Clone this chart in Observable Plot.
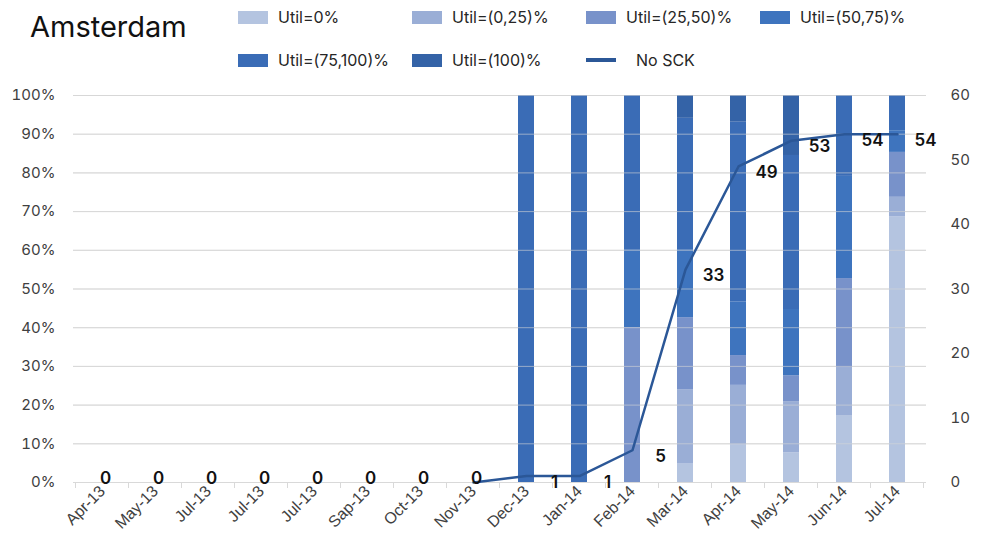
<!DOCTYPE html>
<html>
<head>
<meta charset="utf-8">
<script src="https://cdn.jsdelivr.net/npm/d3@7"></script>
<script src="https://cdn.jsdelivr.net/npm/@observablehq/plot@0.6"></script>
<style>
  html, body { margin: 0; padding: 0; background: #fff; }
  body { font-family: Inter, "Noto Sans", sans-serif; color: #262626; }
  #wrap { position: relative; width: 985px; height: 542px; overflow: hidden; }
  #header { position: relative; width: 985px; height: 80px; }
  #title { position: absolute; left: 30px; top: 9px; font-size: 29px; color: #111; }
  .item { position: absolute; display: flex; align-items: center; font-size: 16px; color: #262626; white-space: nowrap; }
  .sw { width: 30px; height: 13px; margin-right: 10px; }
  .ln { width: 30px; height: 4px; margin-right: 20px; }
</style>
</head>
<body>
<div id="wrap">
  <div id="header"><div id="title">Amsterdam</div></div>
  <div id="chart"></div>
</div>
<script>
// ---- data ----
const months = ["Apr-13","May-13","Jul-13","Jul-13","Jul-13","Sap-13","Oct-13","Nov-13","Dec-13","Jan-14","Feb-14","Mar-14","Apr-14","May-14","Jun-14","Jul-14"];
const series = ["Util=0%","Util=(0,25)%","Util=(25,50)%","Util=(50,75)%","Util=(75,100)%","Util=(100)%"];
const lineName = "No SCK";
const util0     = [0,0,0,0,0,0,0,0,   0,   0,  0,  4.9,  9.7,  7.7, 17.3, 68.6];
const util0_25  = [0,0,0,0,0,0,0,0,   0,   0,  0, 19.1, 15.4, 13.2, 12.4,  5.1];
const util25_50 = [0,0,0,0,0,0,0,0,   0,   0, 40, 18.6,  7.7,  6.7, 23.0, 11.6];
const util50_75 = [0,0,0,0,0,0,0,0,   0,   0, 20, 17.4, 13.8, 17.1, 26.4,  5.6];
const util75_100= [0,0,0,0,0,0,0,0, 100, 100, 40, 34.1, 46.5, 39.8, 20.9,  9.1];
const util100   = [0,0,0,0,0,0,0,0,   0,   0,  0,  5.9,  6.9, 15.5,  0,    0];
const noSck     = [0,0,0,0,0,0,0,0,1,1,5,33,49,53,54,54];
const lineFrom  = "Nov-13"; // the line is drawn from this month on
const pctTicks  = [0,10,20,30,40,50,60,70,80,90,100];
const cntTicks  = [0,10,20,30,40,50,60];
const cntMax    = 60;

// ---- styling ----
const colors = ["#b4c4e0","#9aaed6","#7892ca","#3e74be","#3a6cb6","#3463a7"];
const lineColor = "#2b5797";

// ---- legend ----
const header = document.getElementById("header");
const legendItems = series.map((s, k) => ({name: s, color: colors[k], line: false})).concat([{name: lineName, color: lineColor, line: true}]);
legendItems.forEach((it, k) => {
  const row = k < 4 ? 0 : 1, col = k % 4;
  const div = document.createElement("div");
  div.className = "item";
  div.style.left = (238 + col * 174) + "px";
  div.style.top = (row === 0 ? 7 : 50) + "px";
  const sw = document.createElement("span");
  sw.className = it.line ? "ln" : "sw";
  sw.style.background = it.color;
  div.appendChild(sw);
  div.appendChild(document.createTextNode(it.name));
  header.appendChild(div);
});

// ---- tidy tables ----
const arrays = [util0, util0_25, util25_50, util50_75, util75_100, util100];
const idx = d3.range(months.length);
const tidy = [];
idx.forEach(i => arrays.forEach((arr, k) => tidy.push({i, s: series[k], v: arr[i]})));
const pts = idx.map(i => ({i, v: noSck[i], y: noSck[i] * 100 / cntMax}));
const startI = months.indexOf(lineFrom);
const linePts = pts.filter(d => d.i >= startI);

// tick marks between categories (band boundaries) via the x scale
function boundaryTicks(index, scales, values, dims) {
  const x = scales.x, y = scales.y;
  const step = x.step(), bw = x.bandwidth();
  const g = d3.create("svg:g").attr("stroke", "#d9d9d9").attr("stroke-width", 1);
  const y0 = y(0);
  const xs = x.domain().map(d => x(d) - (step - bw) / 2);
  xs.push(x(x.domain()[x.domain().length - 1]) + bw + (step - bw) / 2);
  xs.forEach(px => g.append("line").attr("x1", px).attr("x2", px).attr("y1", y0).attr("y2", y0 + 6));
  return g.node();
}

const plot = Plot.plot({
  width: 985,
  height: 462,
  marginTop: 15,
  marginBottom: 60,
  marginLeft: 73,
  marginRight: 59,
  style: {fontFamily: "Inter, 'Noto Sans', sans-serif", color: "#404040", background: "#fff"},
  x: {type: "band", domain: idx, paddingInner: 0.7, paddingOuter: 0.35, axis: null},
  y: {domain: [0, 100], axis: null},
  color: {domain: series, range: colors},
  marks: [
    Plot.gridY(pctTicks, {stroke: "#d9d9d9", strokeOpacity: 1}),
    Plot.barY(tidy, {x: "i", y: "v", fill: "s"}),
    Plot.gridY(pctTicks.filter(t => t > 0), {stroke: "#d6d6d6", strokeOpacity: 0.6}),
    Plot.ruleY([0], {stroke: "#d9d9d9"}),
    boundaryTicks,
    Plot.axisY(pctTicks, {anchor: "left", tickSize: 0, tickPadding: 18, tickFormat: d => d + "%", fontSize: 15, label: null}),
    Plot.axisY(cntTicks.map(v => v * 100 / cntMax), {anchor: "right", tickSize: 0, tickPadding: 24, tickFormat: d => Math.round(d * cntMax / 100), fontSize: 15, label: null, textAnchor: "start"}),
    Plot.axisX(idx, {tickSize: 0, tickPadding: 6, tickRotate: -45, tickFormat: i => months[i], fontSize: 16, fontFamily: "'Liberation Sans', Arial, sans-serif", label: null}),
    Plot.line(linePts, {x: "i", y: "y", stroke: lineColor, strokeWidth: 2.5}),
    Plot.text(pts.filter(d => d.v === 0), {x: "i", y: "y", text: d => String(d.v), dx: 3, dy: -4, fontSize: 17, fontWeight: 600, fill: "#111"}),
    Plot.text(pts.filter(d => d.v > 0), {x: "i", y: "y", text: d => String(d.v), dx: 28, dy: 6, fontSize: 17, fontWeight: 600, fill: "#111"})
  ]
});
document.getElementById("chart").appendChild(plot);
</script>
</body>
</html>
